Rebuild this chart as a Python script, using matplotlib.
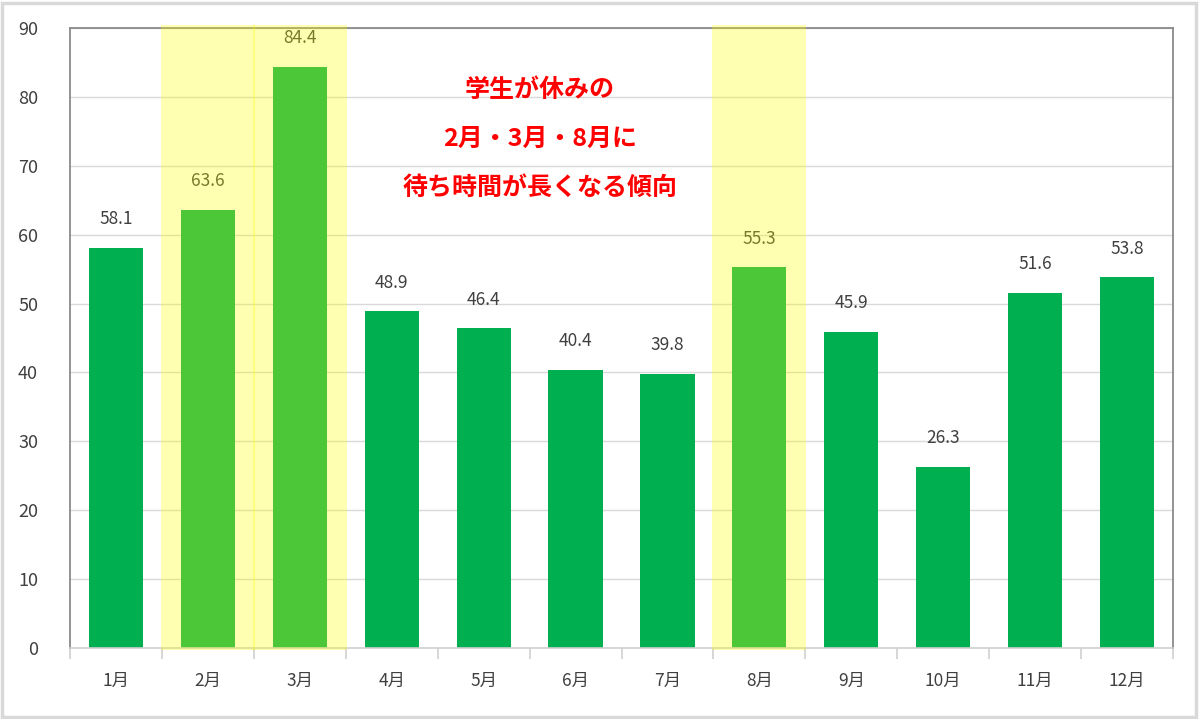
import numpy as np
import matplotlib
matplotlib.use('Agg')
import matplotlib.pyplot as plt
from matplotlib.patches import Rectangle

plt.rcParams['font.family'] = ['Noto Sans CJK JP', 'DejaVu Sans']

months = ['1月', '2月', '3月', '4月', '5月', '6月', '7月', '8月', '9月', '10月', '11月', '12月']
wait_time = [58.1, 63.6, 84.4, 48.9, 46.4, 40.4, 39.8, 55.3, 45.9, 26.3, 51.6, 53.8]
holiday_months = ['2月', '3月', '8月']
note_lines = ['学生が休みの', '2月・3月・8月に', '待ち時間が長くなる傾向']

fig = plt.figure(figsize=(12, 7.19), dpi=100)
ax = fig.add_axes([70 / 1200, 1 - 648 / 719, 1103 / 1200, 620 / 719])

x = np.arange(len(months))
ax.bar(x, wait_time, width=0.59, color='#00b050', zorder=2)

for i, v in enumerate(wait_time):
    ax.annotate(f'{v:.1f}', (i, v), xytext=(0, 14), textcoords='offset points',
                ha='center', va='bottom', fontsize=12.5, color='#404040', zorder=3)

# yellow bands over the school-holiday months
for m in holiday_months:
    i = months.index(m)
    ax.add_patch(Rectangle((i - 0.51, -0.3), 1.02, 90.7, facecolor='#ffff00',
                           alpha=0.3, edgecolor='none', zorder=4, clip_on=False))

ax.set_xlim(-0.5, 11.5)
ax.set_ylim(0, 90)
ax.set_yticks(np.arange(0, 91, 10))
ax.set_xticks(x)
ax.set_xticklabels(months)
ax.set_xticks(np.arange(-0.5, 12, 1), minor=True)
ax.tick_params(axis='x', which='major', length=0, pad=17, labelsize=12.5, labelcolor='#404040')
ax.tick_params(axis='x', which='minor', length=8, color='#d0d0d0', width=1.2)
ax.tick_params(axis='y', length=0, pad=23, labelsize=13, labelcolor='#404040')

ax.grid(axis='y', color='#d9d9d9', linewidth=1, zorder=0)
ax.set_axisbelow(True)
for side in ['top', 'right', 'left']:
    ax.spines[side].set_color('#8a8a8a')
    ax.spines[side].set_linewidth(1.3)
ax.spines['bottom'].set_color('#d0d0d0')
ax.spines['bottom'].set_linewidth(1.2)

for k, line in enumerate(note_lines):
    ax.text(4.61, 81.0 - k * 7.1, line, ha='center', va='center', fontsize=18,
            fontweight='bold', color='#ff0000', zorder=5)

fig.add_artist(Rectangle((0.002, 0.003), 0.995, 0.993, transform=fig.transFigure,
                         facecolor='none', edgecolor='#d9d9d9', linewidth=2.5))

fig.savefig('out.png', dpi=100)
